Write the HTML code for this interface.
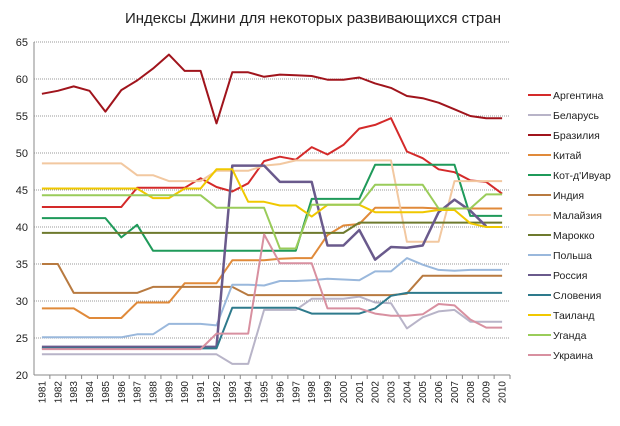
<!DOCTYPE html>
<html><head><meta charset="utf-8"><style>
body{margin:0;background:#fff;}
svg text{font-family:"Liberation Sans",sans-serif;fill:#222;}
</style></head><body>
<svg id="c" width="620" height="421" xmlns="http://www.w3.org/2000/svg">
<text x="313" y="23" font-size="15" text-anchor="middle">Индексы Джини для некоторых развивающихся стран</text>
<g id="grid"></g><g id="axes"></g><g id="series"></g><g id="legend"></g>
</svg>
<script>
const years=[];for(let y=1981;y<=2010;y++)years.push(y);
const yTicks=[20,25,30,35,40,45,50,55,60,65];
const names=["Аргентина","Беларусь","Бразилия","Китай","Кот-д'Ивуар","Индия","Малайзия","Марокко","Польша","Россия","Словения","Таиланд","Уганда","Украина"];
const colors=["#d42a2a","#b8b4c8","#a0141c","#e08a3a","#1f9a5a","#b87a40","#f2c8a0","#6e7a2e","#9ab8dc","#6a5a8c","#2e7a8c","#f0c800","#9acc5a","#d890a0"];
const argentina=[42.7,42.7,42.7,42.7,42.7,42.7,45.3,45.3,45.3,45.3,46.6,45.4,44.8,45.9,48.9,49.5,49.1,50.8,49.8,51.1,53.3,53.8,54.7,50.2,49.3,47.8,47.4,46.3,46.1,44.5];
const belarus=[22.8,22.8,22.8,22.8,22.8,22.8,22.8,22.8,22.8,22.8,22.8,22.8,21.5,21.5,28.8,28.8,28.8,30.3,30.3,30.3,30.6,29.8,29.7,26.3,27.8,28.6,28.8,27.2,27.2,27.2];
const brazil=[58,58.4,59,58.4,55.6,58.5,59.8,61.4,63.3,61.1,61.1,54,60.9,60.9,60.3,60.6,60.5,60.4,59.9,59.9,60.2,59.4,58.8,57.7,57.4,56.8,55.9,55,54.7,54.7];
const china=[29,29,29,27.7,27.7,27.7,29.8,29.8,29.8,32.4,32.4,32.4,35.5,35.5,35.5,35.7,35.8,35.8,38.9,40.2,40.4,42.6,42.6,42.6,42.6,42.5,42.5,42.5,42.5,42.5];
const coteIvoire=[41.2,41.2,41.2,41.2,41.2,38.6,40.3,36.8,36.8,36.8,36.8,36.8,36.8,36.8,36.8,36.8,36.8,43.8,43.8,43.8,43.8,48.4,48.4,48.4,48.4,48.4,48.4,41.5,41.5,41.5];
const india=[35,35,31.1,31.1,31.1,31.1,31.1,31.9,31.9,31.9,31.9,31.9,31.9,30.8,30.8,30.8,30.8,30.8,30.8,30.8,30.8,30.8,30.8,31,33.4,33.4,33.4,33.4,33.4,33.4];
const malaysia=[48.6,48.6,48.6,48.6,48.6,48.6,47,47,46.2,46.2,46.2,47.6,47.6,47.6,48.3,48.5,49,49,49,49,49,49,49,38,38,38,46.2,46.2,46.2,46.2];
const morocco=[39.2,39.2,39.2,39.2,39.2,39.2,39.2,39.2,39.2,39.2,39.2,39.2,39.2,39.2,39.2,39.2,39.2,39.2,39.2,39.2,40.6,40.6,40.6,40.6,40.6,40.6,40.6,40.6,40.6,40.6];
const poland=[25.1,25.1,25.1,25.1,25.1,25.1,25.5,25.5,26.9,26.9,26.9,26.7,32.2,32.2,32.1,32.7,32.7,32.8,33,32.9,32.8,34,34,35.8,34.9,34.2,34.1,34.2,34.2,34.2];
const russia=[23.8,23.8,23.8,23.8,23.8,23.8,23.8,23.8,23.8,23.8,23.8,23.8,48.3,48.3,48.3,46.1,46.1,46.1,37.5,37.5,39.6,35.6,37.3,37.2,37.5,42,43.7,42.2,40.1,null];
const slovenia=[23.6,23.6,23.6,23.6,23.6,23.6,23.6,23.6,23.6,23.6,23.6,23.6,29.1,29.1,29.1,29.1,29.1,28.3,28.3,28.3,28.3,29,30.7,31.1,31.1,31.1,31.1,31.1,31.1,31.1];
const thailand=[45.2,45.2,45.2,45.2,45.2,45.2,45.2,43.9,43.9,45.2,45.2,47.8,47.8,43.4,43.4,42.9,42.9,41.4,43,43,43,42,42,42,42,42.3,42.3,40.5,40,40];
const uganda=[44.3,44.3,44.3,44.3,44.3,44.3,44.3,44.3,44.3,44.3,44.3,42.6,42.6,42.6,42.6,37.1,37.1,43,43,43,43,45.7,45.7,45.7,45.7,42.5,42.5,42.5,44.4,44.4];
const ukraine=[23.5,23.5,23.5,23.5,23.5,23.5,23.5,23.5,23.5,23.5,23.5,25.6,25.6,25.6,39,35.1,35.1,35.1,29,29,29,28.3,28,28,28.2,29.6,29.4,27.5,26.4,26.4];
const seriesData=[argentina,belarus,brazil,china,coteIvoire,india,malaysia,morocco,poland,russia,slovenia,thailand,uganda,ukraine];

const NS="http://www.w3.org/2000/svg";
const X0=34,X1=510,Y0=375,Y1=42,YMIN=20,YMAX=65;
const step=(X1-X0)/years.length;
const xs=i=>X0+step*(i+0.5);
const ys=v=>Y0-(v-YMIN)/(YMAX-YMIN)*(Y0-Y1);
function mk(t,a,p){const e=document.createElementNS(NS,t);for(const k in a)e.setAttribute(k,a[k]);p.appendChild(e);return e;}
const grid=document.getElementById('grid'),axes=document.getElementById('axes'),ser=document.getElementById('series'),leg=document.getElementById('legend');
yTicks.forEach(t=>{
  if(t>YMIN){const l=mk('line',{x1:X0,x2:X1,y1:ys(t),y2:ys(t),stroke:'#999','stroke-dasharray':'1,1','stroke-width':1},grid);
  
  }
  const tx=mk('text',{x:X0-6,y:ys(t)+4,'font-size':11,'text-anchor':'end'},axes);tx.textContent=t;
  
  
});
mk('line',{x1:X0,x2:X0,y1:Y1,y2:Y0,stroke:'#888'},axes);
mk('line',{x1:X0,x2:X1,y1:Y0,y2:Y0,stroke:'#888'},axes);
years.forEach((y,i)=>{
  mk('line',{x1:X0+step*(i+1),x2:X0+step*(i+1),y1:Y0,y2:Y0+4,stroke:'#888'},axes);
  const cx=xs(i);
  const tx=mk('text',{x:0,y:0,'font-size':10,'text-anchor':'end',transform:`translate(${cx+3.5},${Y0+6}) rotate(-90)`},axes);tx.textContent=y;
  
  
});
seriesData.forEach((d,s)=>{
  let p='';d.forEach((v,i)=>{if(v==null)return;p+=(p?'L':'M')+xs(i).toFixed(1)+','+ys(v).toFixed(1);});
  const path=mk('path',{d:p,fill:'none',stroke:colors[s],'stroke-width':s==9?2.5:2,'stroke-linejoin':'round'},ser);
  
  
  const ly=95+s*20;
  const g=mk('g',{},leg);
  
  
  mk('line',{x1:528,x2:551,y1:ly,y2:ly,stroke:colors[s],'stroke-width':2},g);
  const t=mk('text',{x:553,y:ly+4,'font-size':10.5},g);t.textContent=names[s];
});
</script>
</body></html>
